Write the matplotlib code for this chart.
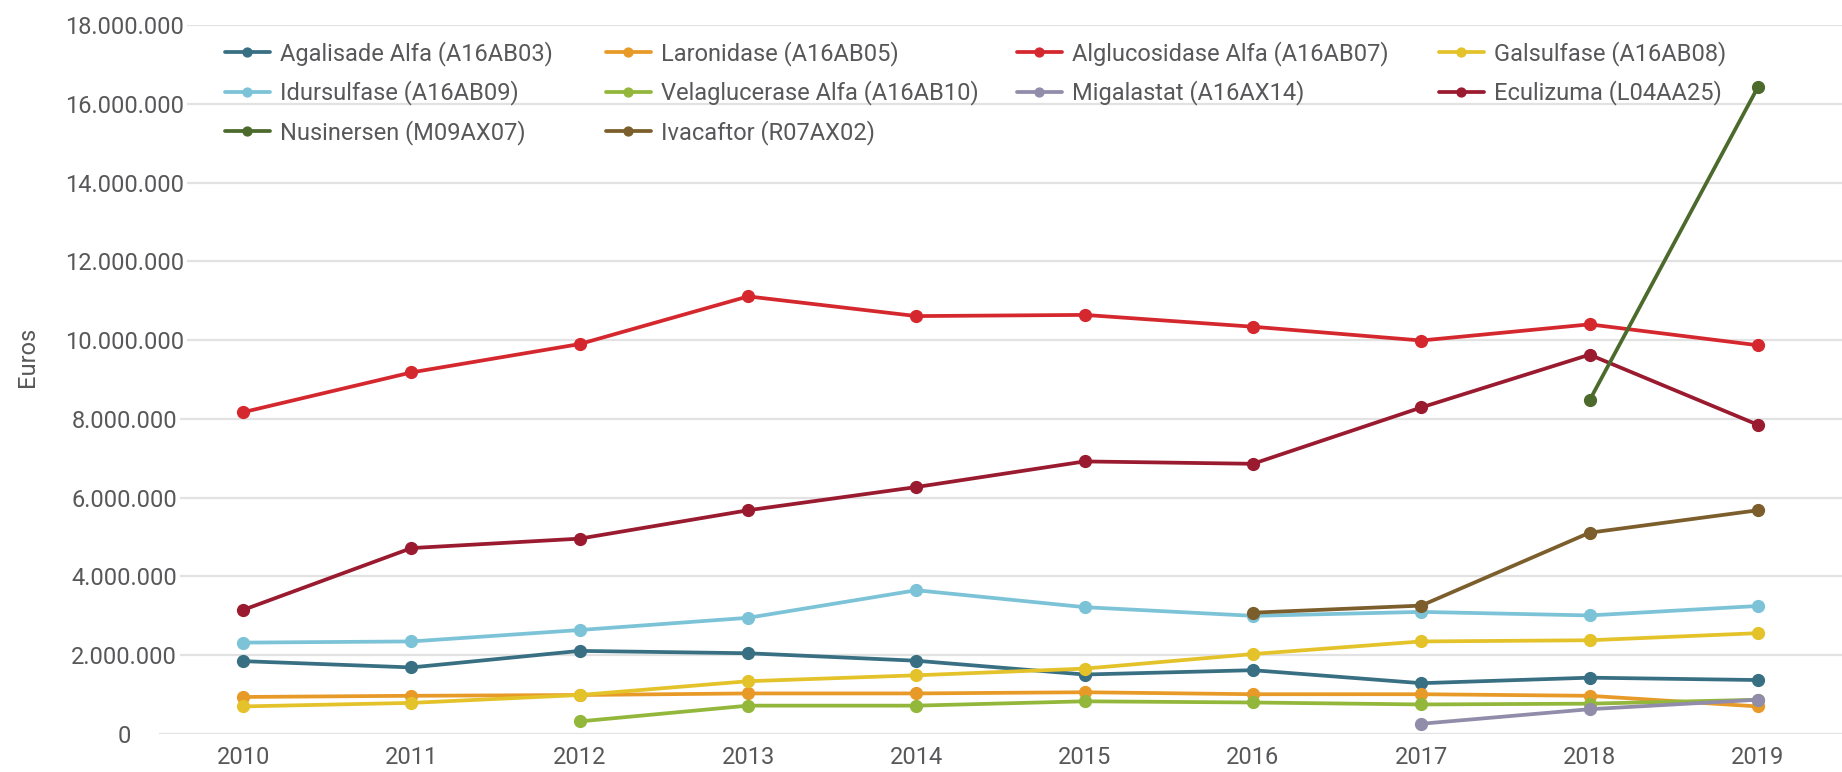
import numpy as np
import matplotlib
matplotlib.use("Agg")
import matplotlib.pyplot as plt
from matplotlib.ticker import FuncFormatter

plt.rcParams['font.family'] = ['Roboto', 'DejaVu Sans']

nan = np.nan
years = [2010, 2011, 2012, 2013, 2014, 2015, 2016, 2017, 2018, 2019]

# values in millions of euros
agalisade = [1.85, 1.69, 2.11, 2.05, 1.86, 1.51, 1.62, 1.29, 1.43, 1.37]
laronidase = [0.94, 0.97, 0.99, 1.03, 1.03, 1.06, 1.01, 1.01, 0.97, 0.70]
alglucosidase = [8.17, 9.18, 9.90, 11.11, 10.61, 10.64, 10.34, 9.99, 10.40, 9.87]
galsulfase = [0.70, 0.79, 0.99, 1.34, 1.49, 1.66, 2.03, 2.35, 2.38, 2.56]
idursulfase = [2.32, 2.35, 2.64, 2.95, 3.65, 3.22, 3.00, 3.10, 3.01, 3.25]
velaglucerase = [nan, nan, 0.32, 0.72, 0.72, 0.83, 0.80, 0.75, 0.77, 0.87]
migalastat = [nan, nan, nan, nan, nan, nan, nan, 0.26, 0.63, 0.87]
eculizuma = [3.15, 4.72, 4.96, 5.68, 6.27, 6.92, 6.86, 8.29, 9.63, 7.85]
nusinersen = [nan, nan, nan, nan, nan, nan, nan, nan, 8.47, 16.42]
ivacaftor = [nan, nan, nan, nan, nan, nan, 3.08, 3.26, 5.11, 5.68]

names = ["Agalisade Alfa (A16AB03)", "Laronidase (A16AB05)", "Alglucosidase Alfa (A16AB07)",
         "Galsulfase (A16AB08)", "Idursulfase (A16AB09)", "Velaglucerase Alfa (A16AB10)",
         "Migalastat (A16AX14)", "Eculizuma (L04AA25)", "Nusinersen (M09AX07)",
         "Ivacaftor (R07AX02)"]
values = [agalisade, laronidase, alglucosidase, galsulfase, idursulfase,
          velaglucerase, migalastat, eculizuma, nusinersen, ivacaftor]
colors = ["#386f82", "#e89a28", "#d5282e", "#e3c22a", "#7cc3d7",
          "#93b73b", "#908ca9", "#9a1b2f", "#4b6a2c", "#7b5e2b"]

W, H = 1842, 772
TXT = '#58585a'
fig = plt.figure(figsize=(W / 100, H / 100), dpi=100)
ax = fig.add_axes([159 / W, 1 - 734 / H, 1 - 159 / W, (734 - 25) / H])

handles = []
for name, vals, col in zip(names, values, colors):
    v = np.array(vals) * 1e6
    h, = ax.plot(years, v, color=col, linewidth=2.7, marker='o', markersize=8.5,
                 label=name, solid_capstyle='round')
    handles.append(h)

ax.set_xlim(2009.5, 2019.5)
ax.set_ylim(0, 18e6)
ax.set_yticks(np.arange(0, 18e6 + 1, 2e6))
ax.set_xticks(years)
ax.yaxis.set_major_formatter(FuncFormatter(lambda v, p: f"{int(v):,}".replace(",", ".")))
ax.grid(axis='y', color='#e2e2e2', linewidth=1.6)
ax.set_axisbelow(True)
for s in ax.spines.values():
    s.set_visible(False)
ax.tick_params(length=0, labelsize=17, colors=TXT)
ax.tick_params(axis='y', pad=25)
ax.tick_params(axis='x', pad=9)
for lab in ax.get_yticklabels():
    lab.set_horizontalalignment('center')
    lab.set_bbox(dict(facecolor='white', edgecolor='none', pad=2))

fig.text(28 / W, 1 - 357 / H, "Euros", rotation=90, fontsize=17, color=TXT,
         ha='center', va='center')

# legend: four columns placed like the original
columns = [[0, 4, 8], [1, 5, 9], [2, 6], [3, 7]]
col_x = [225, 606, 1017, 1439]
for idx, x in zip(columns, col_x):
    leg = fig.legend([handles[i] for i in idx], [names[i] for i in idx],
                     loc='upper left', bbox_to_anchor=(x / W, 1 - 41 / H),
                     frameon=False, fontsize=17, labelcolor=TXT, borderpad=0,
                     borderaxespad=0, handlelength=1.9, handletextpad=0.42,
                     labelspacing=0.62, markerscale=0.75)

fig.savefig("out.png", dpi=100)
